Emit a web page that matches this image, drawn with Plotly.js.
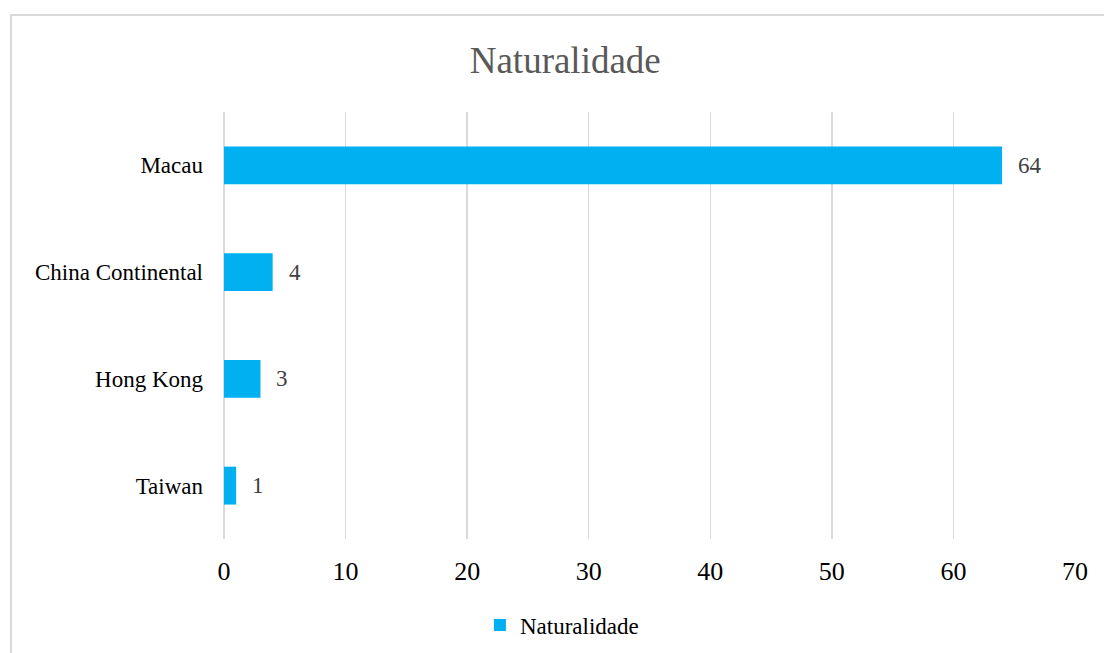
<!DOCTYPE html>
<html>
<head>
<meta charset="utf-8">
<script src="https://cdn.plot.ly/plotly-3.0.1.min.js"></script>
<style>
html,body{margin:0;padding:0;background:#fff;}
#chart{width:1104px;height:653px;}
</style>
</head>
<body>
<div id="chart"></div>
<script>
const categories = ['Taiwan', 'Hong Kong', 'China Continental', 'Macau'];
const values = [1, 3, 4, 64];
const seriesName = 'Naturalidade';
const chartTitle = 'Naturalidade';
const xTicks = [0, 10, 20, 30, 40, 50, 60, 70];

const FONT = '"Liberation Serif", "Times New Roman", serif';

const trace = {
  type: 'bar',
  orientation: 'h',
  name: seriesName,
  y: categories,
  x: values,
  marker: {color: '#00B0F0'},
  showlegend: true,
  hoverinfo: 'x+y'
};

const annotations = categories.map((c, i) => ({
  x: values[i], y: c, xref: 'x', yref: 'y',
  text: String(values[i]), showarrow: false,
  xanchor: 'left', yanchor: 'middle', xshift: 14,
  font: {family: FONT, size: 23, color: '#404040'}
}));

const layout = {
  width: 1104, height: 653,
  margin: {l: 224, r: 29, t: 112, b: 114},
  paper_bgcolor: '#ffffff',
  plot_bgcolor: '#ffffff',
  font: {family: FONT, color: '#000000'},
  title: {
    text: chartTitle,
    font: {family: FONT, size: 37, color: '#595959'},
    xref: 'container', x: 0.512, xanchor: 'center',
    yref: 'container', y: 1 - 60/653, yanchor: 'middle'
  },
  bargap: 0.645,
  xaxis: {
    range: [0, 70],
    tickvals: xTicks,
    ticktext: xTicks.map(String),
    showgrid: true, gridcolor: '#d9d9d9', gridwidth: 1.5,
    zeroline: true, zerolinecolor: '#d9d9d9', zerolinewidth: 1.5,
    showline: false,
    ticks: '',
    ticklabelstandoff: 14,
    tickfont: {family: FONT, size: 26, color: '#000000'},
    fixedrange: true
  },
  yaxis: {
    type: 'category',
    showgrid: false, zeroline: false, showline: false,
    ticks: '',
    ticklabelstandoff: 20,
    tickfont: {family: FONT, size: 23, color: '#000000'},
    fixedrange: true
  },
  legend: {
    orientation: 'h',
    xref: 'container', x: 0.509, xanchor: 'center',
    yref: 'container', y: 1 - 625/653, yanchor: 'middle',
    font: {family: FONT, size: 23, color: '#000000'},
    bgcolor: 'rgba(0,0,0,0)'
  },
  shapes: [{
    type: 'rect', xref: 'paper', yref: 'paper',
    x0: (11 - 224)/851, x1: (1112 - 224)/851,
    y0: (539 - 665)/427, y1: (539 - 15)/427,
    line: {color: '#d9d9d9', width: 2},
    fillcolor: 'rgba(0,0,0,0)',
    layer: 'below'
  }],
  annotations: annotations
};

Plotly.newPlot('chart', [trace], layout, {displayModeBar: false, staticPlot: true});
</script>
</body>
</html>
